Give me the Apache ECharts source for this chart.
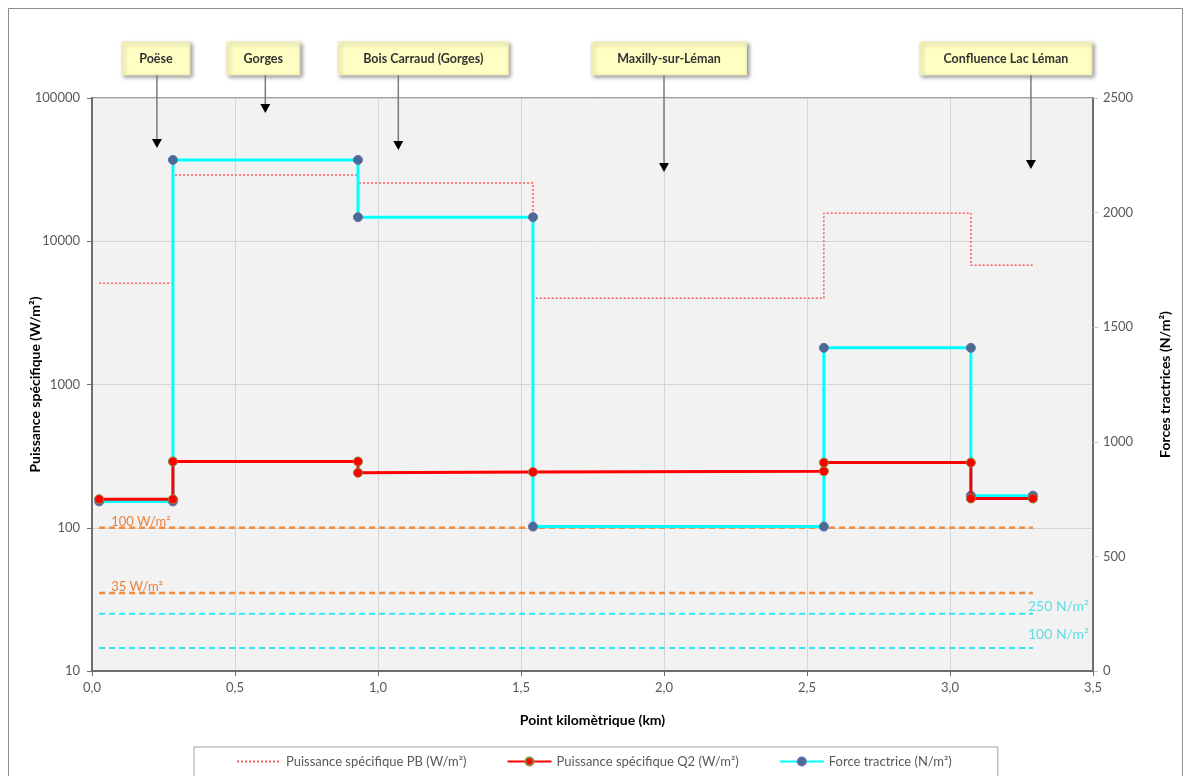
<!DOCTYPE html>
<html><head><meta charset="utf-8">
<script src="https://cdn.jsdelivr.net/npm/echarts@6/dist/echarts.min.js"></script>
<style>html,body{margin:0;padding:0;background:#fff}#c{width:1190px;height:776px}</style>
</head><body><div id="c"></div>
<script>
// ---- data ----
const pbKm   = [0.025, 0.283, 0.283, 0.93, 0.93, 1.542, 1.542, 2.559, 2.559, 3.073, 3.073, 3.29];
const pbVal  = [5100, 5100, 29000, 29000, 25500, 25500, 4000, 4000, 15700, 15700, 6800, 6800];
const q2Km   = [0.025, 0.283, 0.283, 0.93, 0.93, 1.542, 2.559, 2.559, 3.073, 3.073, 3.29];
const q2Val  = [158, 158, 290, 290, 242, 245, 248, 285, 285, 160, 160];
const forceKm  = [0.025, 0.283, 0.283, 0.93, 0.93, 1.542, 1.542, 2.559, 2.559, 3.073, 3.073, 3.29];
const forceVal = [740, 740, 2230, 2230, 1980, 1980, 630, 630, 1410, 1410, 765, 765];
const refSpan = [0.025, 3.29];
const refPower = [100, 35];
const refPowerLabels = ['100 W/m²', '35 W/m²'];
const refForce = [250, 100];
const refForceLabels = ['250 N/m²', '100 N/m²'];
const annotLabels = ['Poëse', 'Gorges', 'Bois Carraud (Gorges)', 'Maxilly-sur-Léman', 'Confluence Lac Léman'];
const annotKm  = [0.227, 0.606, 1.071, 2.0, 3.283];
const annotTip = [44800, 78500, 43400, 30400, 31900];
const seriesNames = ['Puissance spécifique PB (W/m²)', 'Puissance spécifique Q2 (W/m²)', 'Force tractrice (N/m²)'];

// ---- layout/style ----
const FONT = 'Lato, "Liberation Sans", sans-serif';
const boxShift = [-1, -2, 25, 5, -25];
const boxW = [68, 73, 170, 155, 172];
const pair = (xs, ys) => xs.map((x, i) => [x, ys[i]]);

const chart = echarts.init(document.getElementById('c'), null, {renderer: 'canvas'});
const axisLabel = {color: '#595959', fontSize: 13, fontFamily: FONT};
const nameStyle = {color: '#000', fontSize: 14, fontWeight: 'bold', fontFamily: FONT};

const series = [
  {name: seriesNames[0], type: 'line', data: pair(pbKm, pbVal), symbol: 'none', z: 2,
   lineStyle: {color: '#ff5b5b', width: 1.5, type: [2, 2]}, itemStyle: {color: '#ff5b5b'}},
  {name: seriesNames[1], type: 'line', data: pair(q2Km, q2Val), symbol: 'circle', symbolSize: 9, z: 4,
   lineStyle: {color: '#ff0000', width: 3}, itemStyle: {color: '#ff0000', borderColor: '#8a8a3a', borderWidth: 1}},
  {name: seriesNames[2], type: 'line', yAxisIndex: 1, data: pair(forceKm, forceVal), symbol: 'circle', symbolSize: 9, z: 3,
   lineStyle: {color: '#00ffff', width: 3}, itemStyle: {color: '#4b6a94', borderColor: '#6a6aa8', borderWidth: 1}}
];
refPower.forEach((v) => series.push({type: 'line', data: refSpan.map(x => [x, v]), symbol: 'none', silent: true, z: 1,
  lineStyle: {color: '#f28c3e', width: 2.5, type: [6, 4]}}));
refForce.forEach((v) => series.push({type: 'line', yAxisIndex: 1, data: refSpan.map(x => [x, v]), symbol: 'none', silent: true, z: 1,
  lineStyle: {color: '#2ee6f2', width: 2, type: [6, 4]}}));

const option = {
  animation: false,
  textStyle: {fontFamily: FONT},
  grid: {left: 92, top: 98, width: 1001, height: 573, show: true, backgroundColor: '#f2f2f2', borderColor: '#7f7f7f', borderWidth: 1.5},
  legend: {data: [
      {name: seriesNames[0], itemStyle: {color: 'rgba(0,0,0,0)', borderWidth: 0, opacity: 0}},
      {name: seriesNames[1]}, {name: seriesNames[2]}],
    top: 747, left: 194, itemWidth: 44, itemHeight: 10, itemGap: 40,
    padding: [8, 46, 30, 42], borderColor: '#a0a0a0', borderWidth: 1,
    textStyle: {color: '#595959', fontSize: 13, fontFamily: FONT}},
  xAxis: {type: 'value', min: 0, max: 3.5, interval: 0.5,
    name: 'Point kilomètrique (km)', nameLocation: 'middle', nameGap: 42, nameMoveOverlap: false, nameTextStyle: nameStyle,
    axisLine: {show: true, onZero: false, lineStyle: {color: '#6d6d6d', width: 2}},
    axisTick: {show: true, length: 5, lineStyle: {color: '#6d6d6d'}},
    axisLabel: Object.assign({formatter: v => v.toFixed(1).replace('.', ','), margin: 10}, axisLabel),
    splitLine: {show: true, lineStyle: {color: '#d4d4d4', width: 1}}},
  yAxis: [
    {type: 'log', logBase: 10, min: 10, max: 100000,
     name: 'Puissance spécifique (W/m²)', nameLocation: 'middle', nameGap: 50, nameMoveOverlap: false, nameTextStyle: nameStyle,
     axisLine: {show: true, lineStyle: {color: '#6d6d6d', width: 2}},
     axisTick: {show: true, length: 5, lineStyle: {color: '#6d6d6d'}},
     axisLabel: Object.assign({margin: 12, formatter: v => String(Math.round(v))}, axisLabel),
     minorTick: {show: false}, splitLine: {show: true, lineStyle: {color: '#d4d4d4'}}},
    {type: 'value', min: 0, max: 2500, interval: 500, position: 'right',
     name: 'Forces tractrices (N/m²)', nameLocation: 'middle', nameGap: 65, nameRotate: 90, nameMoveOverlap: false, nameTextStyle: nameStyle,
     axisLine: {show: true, lineStyle: {color: '#6d6d6d', width: 2}},
     axisTick: {show: true, length: 5, inside: false, lineStyle: {color: '#bfbfbf'}},
     axisLabel: Object.assign({margin: 10, formatter: v => String(v)}, axisLabel),
     splitLine: {show: false}}
  ],
  series: series
};
chart.setOption(option);

const g = [];
g.push({type: 'rect', silent: true, z: -10, shape: {x: 8.5, y: 8.5, width: 1174, height: 820},
  style: {fill: null, stroke: '#8c8c8c', lineWidth: 1}});
annotLabels.forEach((t, i) => {
  const tip = chart.convertToPixel({xAxisIndex: 0, yAxisIndex: 0}, [annotKm[i], annotTip[i]]);
  const cx = tip[0] + boxShift[i], w = boxW[i];
  g.push({type: 'rect', z: 50, shape: {x: cx - w / 2, y: 42, width: w, height: 33},
    style: {fill: '#ffffc4', stroke: '#ececb8', lineWidth: 1, shadowBlur: 4, shadowOffsetX: 2, shadowOffsetY: 2, shadowColor: 'rgba(0,0,0,0.4)'}});
  g.push({type: 'text', z: 51, x: cx, y: 59, style: {text: t, align: 'center', verticalAlign: 'middle',
    font: 'bold 12.5px ' + FONT, fill: '#333'}});
  g.push({type: 'line', z: 50, shape: {x1: tip[0], y1: 75, x2: tip[0], y2: tip[1] - 7},
    style: {stroke: '#7a7a7a', lineWidth: 1.5}});
  g.push({type: 'polygon', z: 50, shape: {points: [[tip[0] - 5, tip[1] - 9], [tip[0] + 5, tip[1] - 9], [tip[0], tip[1]]]},
    style: {fill: '#000'}});
});
refPower.forEach((v, i) => {
  const p = chart.convertToPixel({xAxisIndex: 0, yAxisIndex: 0}, [refSpan[0], v]);
  g.push({type: 'text', z: 20, x: p[0] + 12, y: p[1] - 6, style: {text: refPowerLabels[i], align: 'left', verticalAlign: 'middle',
    font: '13px ' + FONT, fill: '#e8823a'}});
});
const forceLabelDy = [-7, -14];
refForce.forEach((v, i) => {
  const p = chart.convertToPixel({xAxisIndex: 0, yAxisIndex: 1}, [refSpan[1], v]);
  g.push({type: 'text', z: 20, x: p[0] - 5, y: p[1] + forceLabelDy[i], style: {text: refForceLabels[i], align: 'left', verticalAlign: 'middle',
    font: '14px ' + FONT, fill: '#5fdbe6'}});
});
chart.setOption({graphic: g});
</script>
</body></html>
